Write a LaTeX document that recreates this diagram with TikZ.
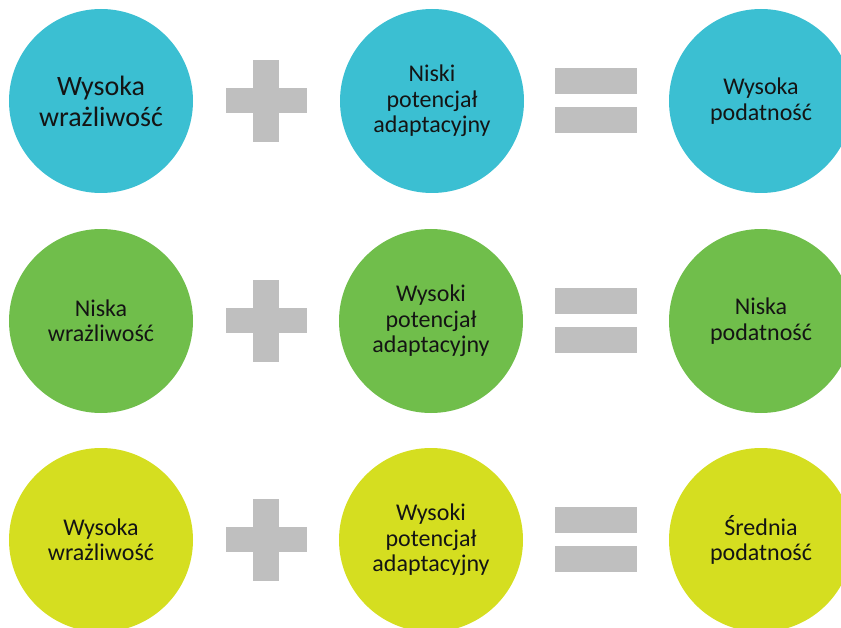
\documentclass[tikz,border=0pt]{standalone}
\usepackage{fontspec}
\setmainfont{Carlito}
\definecolor{cyanc}{RGB}{59,191,210}
\definecolor{greenc}{RGB}{112,190,75}
\definecolor{yellowc}{RGB}{213,222,32}
\definecolor{signgray}{RGB}{191,191,191}
\definecolor{txt}{RGB}{20,20,20}
\tikzset{
  disc/.style={circle, minimum size=184pt, inner sep=0pt, align=center, text=txt,
    font=\fontsize{24}{25.5}\selectfont},
  bigtext/.style={font=\fontsize{28}{31}\selectfont},
  signbar/.style={fill=signgray, draw=none},
}
\begin{document}
\begin{tikzpicture}[x=1pt,y=-1pt]
\useasboundingbox (0,0) rectangle (841,628);
\clip (0,0) rectangle (841,628);
% row 1
\node[disc, bigtext, fill=cyanc] (a1) at (101,101) {Wysoka\\wrażliwość};
\node[disc, fill=cyanc] (b1) at (432,101) {Niski\\potencjał\\adaptacyjny};
\node[disc, fill=cyanc] (c1) at (761,101) {Wysoka\\podatność};
% row 2
\node[disc, fill=greenc] (a2) at (101,321) {Niska\\wrażliwość};
\node[disc, fill=greenc] (b2) at (431,321) {Wysoki\\potencjał\\adaptacyjny};
\node[disc, fill=greenc] (c2) at (761,321) {Niska\\podatność};
% row 3
\node[disc, fill=yellowc] (a3) at (101,540) {Wysoka\\wrażliwość};
\node[disc, fill=yellowc] (b3) at (431,540) {Wysoki\\potencjał\\adaptacyjny};
\node[disc, fill=yellowc] (c3) at (761,540) {Średnia\\podatność};
% plus and equals signs
\foreach \y in {101,321,540}{
  \fill[signbar] (226,\y-13) rectangle (307,\y+12);
  \fill[signbar] (253,\y-41) rectangle (279,\y+41);
  \fill[signbar] (555,\y-33) rectangle (637,\y-7);
  \fill[signbar] (555,\y+6) rectangle (637,\y+32);
}
\end{tikzpicture}
\end{document}
